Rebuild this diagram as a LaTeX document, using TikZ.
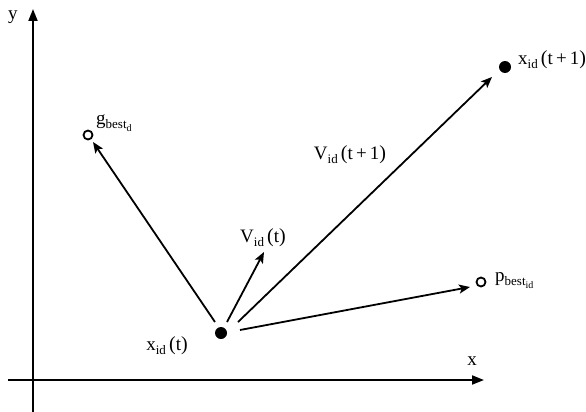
\documentclass[tikz,border=0pt]{standalone}
\usepackage{fontspec}
\setmainfont{Liberation Serif}
\usetikzlibrary{arrows.meta}
\newcommand{\mysub}[1]{\raisebox{-4pt}{\fontsize{13}{13}\selectfont #1}}
\newcommand{\mysubsub}[1]{\raisebox{-3pt}{\fontsize{10}{10}\selectfont #1}}
\newcommand{\bigp}[1]{{\fontsize{20}{20}\selectfont(}#1{\fontsize{20}{20}\selectfont)}}
\begin{document}
\begin{tikzpicture}[x=1pt,y=-1pt,
  vec/.style={line width=1.8pt,-{Stealth[length=11pt,width=9pt,inset=2.5pt]}},
  axis/.style={line width=1.8pt,-{Triangle[length=12pt,width=9pt]}},
  full/.style={circle,fill=black,inner sep=0pt,minimum size=12pt},
  open/.style={circle,draw=black,line width=1.8pt,fill=white,inner sep=0pt,minimum size=9pt},
  lbl/.style={font=\fontsize{19}{21}\selectfont,inner sep=1pt}]
\useasboundingbox (0,0) rectangle (586,412);
% axes
\coordinate (yb) at (33,412);
\coordinate (yt) at (33,9);
\coordinate (xl) at (8,380);
\coordinate (xr) at (484,380);
\draw[axis] (yb) -- (yt);
\draw[axis] (xl) -- (xr);
\node[lbl] (ylab) at (13,17) {y};
\node[lbl] (xlab) at (472,361) {x};
% points
\node[full] (xt) at (221,333) {};
\node[open] (gb) at (88,135) {};
\node[full] (xt1) at (505,67) {};
\node[open] (pb) at (481,282) {};
\coordinate (vt) at (264,252);
% labels
\node[lbl] (xtl) at (167,346) {x\mysub{id}\,\bigp{t}};
\node[lbl] (vtl) at (263,238) {V\mysub{id}\,\bigp{t}};
\node[lbl,anchor=west] (xt1l) at (517,60) {x\mysub{id}\,\bigp{t\,+\,1}};
\node[lbl] (vt1l) at (350,155) {V\mysub{id}\,\bigp{t\,+\,1}};
\node[lbl,anchor=west] (pbl) at (494,281) {p\mysub{best\mysubsub{id}}};
\node[lbl,anchor=west] (gbl) at (95,123) {g\mysub{best\mysubsub{d}}};
% vectors
\draw[vec] ([shift={(-6,-11)}]xt.center) -- ([shift={(5,7)}]gb.center);
\draw[vec] ([shift={(6,-11)}]xt.center) -- (vt);
\draw[vec] ([shift={(17,-11)}]xt.center) -- ([shift={(-13,10)}]xt1.center);
\draw[vec] ([shift={(19,-3)}]xt.center) -- ([shift={(-11,5)}]pb.center);
\end{tikzpicture}
\end{document}
